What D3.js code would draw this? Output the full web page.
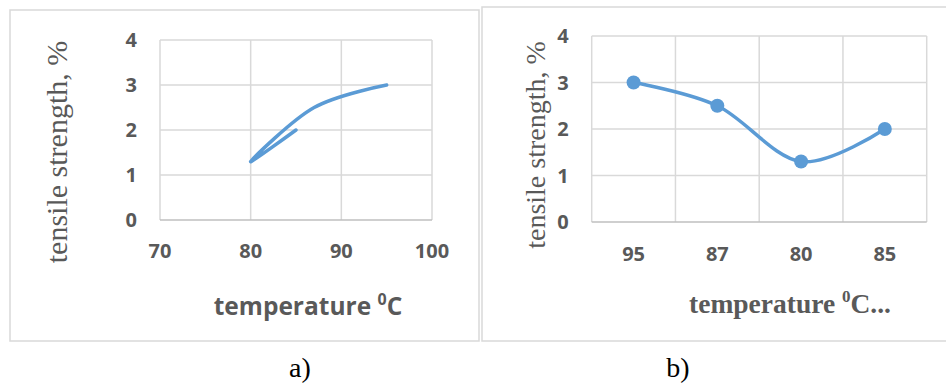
<!DOCTYPE html>
<html>
<head>
<meta charset="utf-8">
<script src="https://cdnjs.cloudflare.com/ajax/libs/d3/7.8.5/d3.min.js"></script>
<style>
  body { margin: 0; background: #fff; }
  svg { display: block; }
</style>
</head>
<body>
<div id="chart"></div>
<script>
// values
var temps = [95, 87, 80, 85];
var strength = [3, 2.5, 1.3, 2];
var xTicks = [70, 80, 90, 100];
var yTicks = [0, 1, 2, 3, 4];
var categories = temps.map(String);

var blue = "#5b9bd5", grid = "#d9d9d9", txt = "#595959";

var svg = d3.select("#chart").append("svg")
  .attr("width", 946).attr("height", 387);

// outer frames
svg.append("rect").attr("x", 10).attr("y", 10).attr("width", 469).attr("height", 331)
  .attr("fill", "none").attr("stroke", grid).attr("stroke-width", 1.5);
svg.append("rect").attr("x", 482).attr("y", 7).attr("width", 470).attr("height", 334)
  .attr("fill", "none").attr("stroke", grid).attr("stroke-width", 1.5);

function yTitle(x, y, size) {
  svg.append("text")
    .attr("transform", "translate(" + x + "," + y + ") rotate(-90)")
    .attr("text-anchor", "middle")
    .attr("font-family", "Liberation Serif")
    .attr("font-size", size)
    .attr("fill", txt)
    .text("tensile strength, %");
}

function drawGridY(y, x0, x1) {
  svg.append("g").selectAll("line").data(yTicks).enter().append("line")
    .attr("x1", x0).attr("x2", x1)
    .attr("y1", d => y(d)).attr("y2", d => y(d))
    .attr("stroke", d => d === 0 ? "#bfbfbf" : grid).attr("stroke-width", 1.5);
  svg.append("g").selectAll("text").data(yTicks).enter().append("text")
    .attr("x", x0 - 23).attr("y", d => y(d)).attr("dy", "0.36em")
    .attr("text-anchor", "end")
    .attr("font-family", "Open Sans").attr("font-weight", "bold")
    .attr("font-size", 20).attr("fill", txt)
    .text(d => d);
}

// ---- a) scatter with smooth line
var xa = d3.scaleLinear().domain([70, 100]).range([160, 432]);
var ya = d3.scaleLinear().domain([0, 4]).range([220, 40]);

svg.append("g").selectAll("line").data(xTicks).enter().append("line")
  .attr("x1", d => xa(d)).attr("x2", d => xa(d))
  .attr("y1", ya(0)).attr("y2", ya(4))
  .attr("stroke", grid).attr("stroke-width", 1.5);
drawGridY(ya, xa(70), xa(100));

svg.append("g").selectAll("text").data(xTicks).enter().append("text")
  .attr("x", d => xa(d)).attr("y", 251).attr("dy", "0.36em")
  .attr("text-anchor", "middle")
  .attr("font-family", "Open Sans").attr("font-weight", "bold")
  .attr("font-size", 20).attr("fill", txt)
  .text(d => d);

var lineA = d3.line()
  .x((d, i) => xa(temps[i]))
  .y(d => ya(d))
  .curve(d3.curveCardinal.tension(0));
svg.append("path").datum(strength)
  .attr("d", lineA)
  .attr("fill", "none").attr("stroke", blue)
  .attr("stroke-width", 3.5).attr("stroke-linecap", "round");

yTitle(67, 152, 30);

var ta = svg.append("text").attr("x", 308).attr("y", 315)
  .attr("text-anchor", "middle")
  .attr("font-family", "Open Sans").attr("font-weight", "bold")
  .attr("font-size", 24.5).attr("fill", txt);
ta.append("tspan").text("temperature ");
ta.append("tspan").attr("font-size", 16).attr("dy", -10).text("0");
ta.append("tspan").attr("dy", 10).text("C");

// ---- b) category line chart
var xb = d3.scaleBand().domain(categories).range([591.7, 926.7]);
var yb = d3.scaleLinear().domain([0, 4]).range([222, 36]);

var bounds = categories.map(c => xb(c)).concat([xb.range()[1]]);
svg.append("g").selectAll("line").data(bounds).enter().append("line")
  .attr("x1", d => d).attr("x2", d => d)
  .attr("y1", yb(0)).attr("y2", yb(4))
  .attr("stroke", grid).attr("stroke-width", 1.5);
drawGridY(yb, xb.range()[0], xb.range()[1]);

svg.append("g").selectAll("text").data(categories).enter().append("text")
  .attr("x", d => xb(d) + xb.bandwidth() / 2).attr("y", 254).attr("dy", "0.36em")
  .attr("text-anchor", "middle")
  .attr("font-family", "Open Sans").attr("font-weight", "bold")
  .attr("font-size", 20).attr("fill", txt)
  .text(d => d);

var lineB = d3.line()
  .x((d, i) => xb(categories[i]) + xb.bandwidth() / 2)
  .y(d => yb(d))
  .curve(d3.curveCardinal.tension(0));
svg.append("path").datum(strength)
  .attr("d", lineB)
  .attr("fill", "none").attr("stroke", blue).attr("stroke-width", 3.5);
svg.append("g").selectAll("circle").data(strength).enter().append("circle")
  .attr("cx", (d, i) => xb(categories[i]) + xb.bandwidth() / 2)
  .attr("cy", d => yb(d))
  .attr("r", 7).attr("fill", blue);

yTitle(545, 145, 28);

var tb = svg.append("text").attr("x", 790).attr("y", 313)
  .attr("text-anchor", "middle")
  .attr("font-family", "Liberation Serif").attr("font-weight", "bold")
  .attr("font-size", 27.5).attr("fill", txt);
tb.append("tspan").text("temperature ");
tb.append("tspan").attr("font-size", 17).attr("dy", -11).text("0");
tb.append("tspan").attr("dy", 11).text("C...");

// panel labels
svg.append("g").selectAll("text").data(["a)", "b)"]).enter().append("text")
  .attr("x", (d, i) => i === 0 ? 300 : 678).attr("y", 377)
  .attr("text-anchor", "middle")
  .attr("font-family", "Liberation Serif").attr("font-size", 28).attr("fill", "#000")
  .text(d => d);
</script>
</body>
</html>
